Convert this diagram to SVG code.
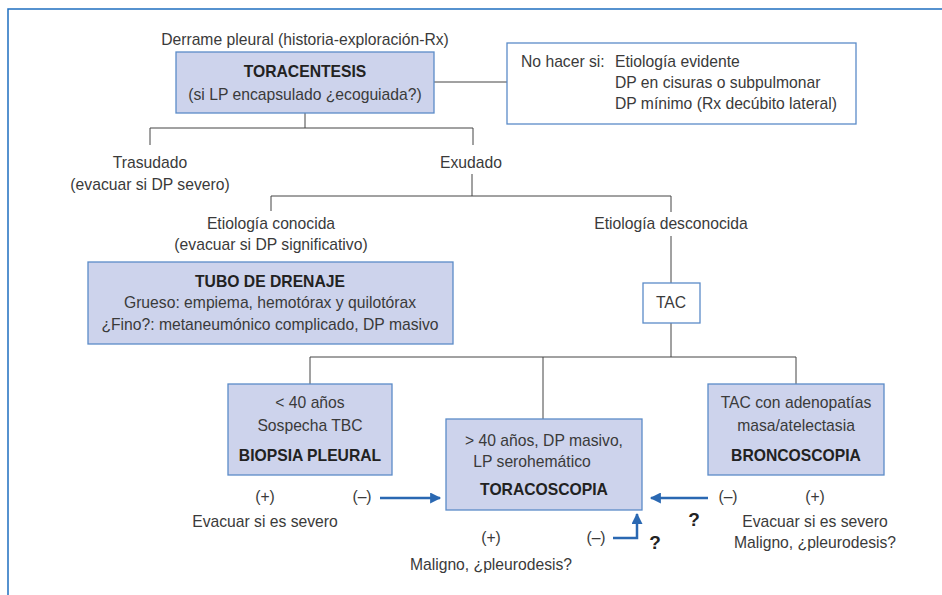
<svg xmlns="http://www.w3.org/2000/svg" width="942" height="595" viewBox="0 0 942 595">
<defs>
<style>
text{font-family:"Liberation Sans","DejaVu Sans",sans-serif;font-size:15.7px;fill:#3a3a3a;text-anchor:middle}
.b{font-weight:bold;fill:#222}
.s{text-anchor:start}
.box{fill:#cdd3ec;stroke:#5b8bc8;stroke-width:1.3}
.wbox{fill:#fff;stroke:#5b8bc8;stroke-width:1.3}
.ln{stroke:#444;stroke-width:1;fill:none}
.ar{stroke:#2a68b2;stroke-width:2.5;fill:none}
.q{font-weight:bold;font-size:19px;fill:#222}
</style>
<marker id="ah" viewBox="0 0 10 10" refX="9" refY="5" markerWidth="4.8" markerHeight="4.4" orient="auto" markerUnits="strokeWidth">
<path d="M0,0L10,5L0,10z" fill="#2a68b2"/>
</marker>
</defs>
<rect width="942" height="595" fill="#fff"/>
<path d="M8,595V9H942" stroke="#1f6fc0" stroke-width="1.5" fill="none"/>
<g id="connectors">
<path class="ln" d="M434,82H507"/>
<path class="ln" d="M305,113V128M150,145V128H473V145"/>
<path class="ln" d="M472,174V196M271,211V196H671V212M671,236V283"/>
<path class="ln" d="M671,323V357M310,384V357H796V384M543,357V419"/>
<path class="ar" d="M380,498H440" marker-end="url(#ah)"/>
<path class="ar" d="M708,498H651" marker-end="url(#ah)"/>
<path class="ar" d="M613,538H637V514" marker-end="url(#ah)"/>
</g>
<g id="start"><text x="305" y="45">Derrame pleural (historia-exploración-Rx)</text></g>
<g id="toracentesis">
<rect class="box" x="176" y="52" width="258" height="61"/>
<text class="b" x="305" y="77">TORACENTESIS</text>
<text x="305" y="100">(si LP encapsulado ¿ecoguiada?)</text>
</g>
<g id="nohacer">
<rect class="wbox" x="507" y="43" width="349" height="81"/>
<text class="s" x="521" y="67">No hacer si:</text>
<text class="s" x="615" y="67">Etiología evidente</text>
<text class="s" x="615" y="88">DP en cisuras o subpulmonar</text>
<text class="s" x="615" y="109">DP mínimo (Rx decúbito lateral)</text>
</g>
<g id="trasudado">
<text x="150" y="168">Trasudado</text>
<text x="150" y="190">(evacuar si DP severo)</text>
</g>
<g id="exudado"><text x="471" y="168">Exudado</text></g>
<g id="conocida">
<text x="271" y="229">Etiología conocida</text>
<text x="271" y="250">(evacuar si DP significativo)</text>
</g>
<g id="desconocida"><text x="671" y="229">Etiología desconocida</text></g>
<g id="tubo">
<rect class="box" x="88" y="262" width="365" height="82"/>
<text class="b" x="270" y="287">TUBO DE DRENAJE</text>
<text x="270" y="308">Grueso: empiema, hemotórax y quilotórax</text>
<text x="270" y="330">¿Fino?: metaneumónico complicado, DP masivo</text>
</g>
<g id="tac">
<rect class="wbox" x="643" y="283" width="57" height="40"/>
<text x="671" y="308">TAC</text>
</g>
<g id="biopsia">
<rect class="box" x="228" y="384" width="164" height="91"/>
<text x="310" y="408">&lt; 40 años</text>
<text x="310" y="431">Sospecha TBC</text>
<text class="b" x="310" y="461">BIOPSIA PLEURAL</text>
</g>
<g id="toracoscopia">
<rect class="box" x="446" y="419" width="196" height="91"/>
<text x="544" y="446">&gt;  40 años, DP masivo,</text>
<text x="532" y="467">LP serohemático</text>
<text class="b" x="544" y="495">TORACOSCOPIA</text>
</g>
<g id="broncoscopia">
<rect class="box" x="708" y="384" width="176" height="91"/>
<text x="796" y="408">TAC con adenopatías</text>
<text x="796" y="431">masa/atelectasia</text>
<text class="b" x="796" y="461">BRONCOSCOPIA</text>
</g>
<g id="biopsia-results">
<text x="265" y="502">(+)</text>
<text x="362" y="502">(–)</text>
<text x="265" y="527">Evacuar si es severo</text>
</g>
<g id="toracoscopia-results">
<text x="491" y="543">(+)</text>
<text x="596" y="543">(–)</text>
<text class="q" x="655" y="549">?</text>
<text x="491" y="570">Maligno, ¿pleurodesis?</text>
</g>
<g id="broncoscopia-results">
<text x="728" y="502">(–)</text>
<text x="815" y="502">(+)</text>
<text class="q" x="694" y="526">?</text>
<text x="815" y="527">Evacuar si es severo</text>
<text x="815" y="548">Maligno, ¿pleurodesis?</text>
</g>
</svg>
